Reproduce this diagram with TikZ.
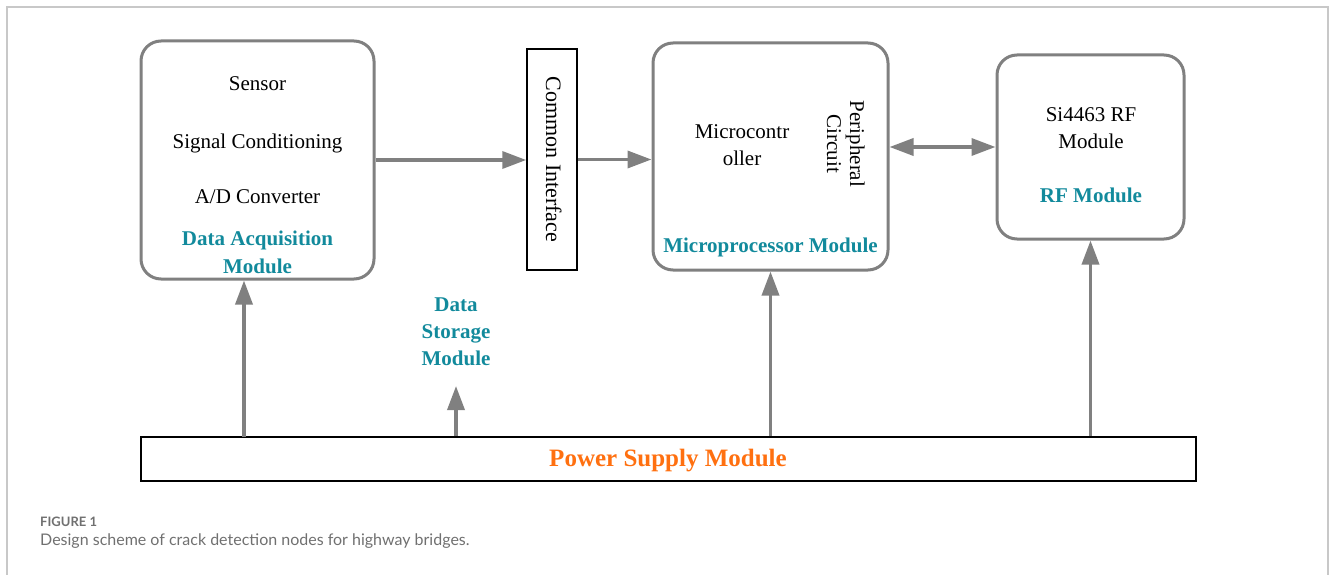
\documentclass[tikz,border=0pt]{standalone}
\usepackage{fontspec}
\setmainfont{Liberation Serif}
\newfontfamily\capfont{Lato}
\usetikzlibrary{arrows.meta}
\definecolor{linegray}{RGB}{128,128,128}
\definecolor{tealc}{RGB}{18,138,156}
\definecolor{orangec}{RGB}{255,112,16}
\definecolor{framegray}{RGB}{200,200,200}
\definecolor{capgray}{RGB}{112,112,112}
\begin{document}
\begin{tikzpicture}[x=1pt,y=-1pt,
  modbox/.style={draw=linegray, line width=3pt, rounded corners=20pt, inner sep=0pt, fill=white},
  plainbox/.style={draw=black, line width=1.5pt, inner sep=0pt, fill=white},
  txt/.style={font=\fontsize{21}{25}\selectfont, inner sep=0pt, anchor=base},
  lbl/.style={txt, font=\fontsize{21}{25}\selectfont\bfseries, text=tealc},
  arr/.style={draw=linegray, line width=3.5pt, -{Triangle[length=24pt,width=17pt]}},
  darr/.style={draw=linegray, line width=3.5pt, {Triangle[length=24pt,width=17pt]}-{Triangle[length=24pt,width=17pt]}}
]
\useasboundingbox (0,0) rectangle (1330,575);
\draw[framegray, line width=2pt] (7,580) -- (7,7) -- (1328,7) -- (1328,580);

% Data acquisition module
\node[modbox, minimum width=233pt, minimum height=238pt] (daq) at (257.5,160) {};
\node[txt] (daq1) at (257.5,91) {Sensor};
\node[txt] (daq2) at (257.5,148) {Signal Conditioning};
\node[txt] (daq3) at (257.5,203) {A/D Converter};
\node[lbl] (daq4) at (257.5,245) {Data Acquisition};
\node[lbl] (daq5) at (257.5,273) {Module};

% Common interface
\node[plainbox, minimum width=50pt, minimum height=221pt] (ci) at (552,159.5) {};
\node[txt, rotate=-90, font=\fontsize{22}{26}\selectfont] (cit) at (546,159.5) {Common Interface};

% Microprocessor module
\node[modbox, minimum width=235pt, minimum height=227pt] (mcu) at (770.5,156.5) {};
\node[txt] (mcu1) at (742,139) {Microcontr};
\node[txt] (mcu2) at (742,165) {oller};
\node[txt, rotate=-90] (mcu3) at (850,144) {Peripheral};
\node[txt, rotate=-90] (mcu4) at (827,144) {Circuit};
\node[lbl] (mcu5) at (770.5,252) {Microprocessor Module};

% RF module
\node[modbox, minimum width=187pt, minimum height=184pt] (rf) at (1090.5,147) {};
\node[txt] (rf1) at (1091,122) {Si4463 RF};
\node[txt] (rf2) at (1091,148) {Module};
\node[lbl] (rf3) at (1091,202) {RF Module};

% Data storage module
\node[lbl] (ds1) at (456,311) {Data};
\node[lbl] (ds2) at (456,338) {Storage};
\node[lbl] (ds3) at (456,365) {Module};
\coordinate (dstip) at (456,386);

% Power supply
\node[draw=black, line width=2pt, inner sep=0pt, minimum width=1055pt, minimum height=44pt] (pwr) at (668.5,459) {};
\node[txt, font=\fontsize{25}{30}\selectfont\bfseries, text=orangec] (pwrt) at (668,466) {Power Supply Module};

% connectors
\draw[arr] (daq.east) -- (daq.east -| ci.west);
\draw[arr] (ci.east) -- (ci.east -| mcu.west);
\draw[darr] (rf.west -| mcu.east) -- (rf.west);
\coordinate (pa) at (244,437);
\draw[arr] (pa) -- (pa |- daq.south);
\draw[arr] (dstip |- pwr.north) -- (dstip);
\draw[arr] (mcu.south |- pwr.north) -- (mcu.south);
\draw[arr] (rf.south |- pwr.north) -- (rf.south);

% caption
\node[anchor=base west, inner sep=0pt, font=\capfont\bfseries\fontsize{13}{15}\selectfont, text=capgray] (figlbl) at (40,526) {FIGURE 1};
\node[anchor=base west, inner sep=0pt, font=\capfont\fontsize{16}{19}\selectfont, text=capgray] (cap) at (40,545) {Design scheme of crack detection nodes for highway bridges.};
\end{tikzpicture}
\end{document}
